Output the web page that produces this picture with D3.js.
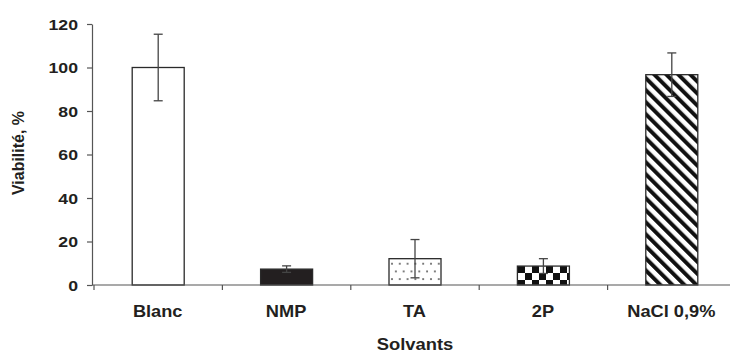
<!DOCTYPE html>
<html><head><meta charset="utf-8">
<script src="https://cdn.jsdelivr.net/npm/d3@7"></script>
<style>body{margin:0;background:#fff}svg{display:block}text{font-family:"Liberation Sans",Arial,sans-serif;font-weight:bold;fill:#231f20}</style>
</head><body>
<script>
const categories = ["Blanc", "NMP", "TA", "2P", "NaCl 0,9%"];
const values = [100, 7.3, 12.1, 8.7, 96.7];
const errors = [15.3, 1.5, 8.8, 3.4, 10];
const patterns = ["white", "solid", "dots", "checks", "stripes"];
const yTicks = [0, 20, 40, 60, 80, 100, 120];

const W = 730, H = 354;
const svg = d3.select("body").append("svg").attr("width", W).attr("height", H);
const defs = svg.append("defs");

// dots
const pd = defs.append("pattern").attr("id", "dots").attr("patternUnits", "userSpaceOnUse")
  .attr("width", 15.6).attr("height", 15.4);
pd.append("rect").attr("width", 15.6).attr("height", 15.4).attr("fill", "#fff");
[[2,2],[9.8,2],[5.9,9.7],[13.7,9.7]].forEach(([x,y]) => pd.append("circle").attr("cx", x).attr("cy", y).attr("r", 1).attr("fill", "#555"));
// checks
const pc = defs.append("pattern").attr("id", "checks").attr("patternUnits", "userSpaceOnUse")
  .attr("width", 14).attr("height", 14);
pc.append("rect").attr("width", 14).attr("height", 14).attr("fill", "#fff");
pc.append("rect").attr("width", 7).attr("height", 7).attr("fill", "#111");
pc.append("rect").attr("x", 7).attr("y", 7).attr("width", 7).attr("height", 7).attr("fill", "#111");
// stripes
const ps = defs.append("pattern").attr("id", "stripes").attr("patternUnits", "userSpaceOnUse")
  .attr("width", 8.5).attr("height", 8.5).attr("patternTransform", "rotate(-45)");
ps.append("rect").attr("width", 8.5).attr("height", 8.5).attr("fill", "#fff");
ps.append("rect").attr("width", 4).attr("height", 8.5).attr("fill", "#111");

const fills = {white: "#fff", solid: "#231f20", dots: "url(#dots)", checks: "url(#checks)", stripes: "url(#stripes)"};

const x = d3.scaleBand().domain(categories).range([94, 736]).paddingInner(0.595).paddingOuter(0.2975);
const y = d3.scaleLinear().domain([0, 120]).range([285, 24]);
const axisColor = "#555";

// bars
svg.selectAll("rect.bar").data(categories).join("rect").attr("class", "bar")
  .attr("x", d => x(d)).attr("width", x.bandwidth())
  .attr("y", (d, i) => y(values[i])).attr("height", (d, i) => y(0) - y(values[i]))
  .attr("fill", (d, i) => fills[patterns[i]])
  .attr("stroke", "#2a2a2a").attr("stroke-width", 1.3);

// error bars
const eg = svg.append("g").attr("stroke", "#444").attr("stroke-width", 1.3);
categories.forEach((c, i) => {
  const cx = x(c) + x.bandwidth() / 2;
  const t = y(values[i] + errors[i]), b = y(values[i] - errors[i]);
  eg.append("line").attr("x1", cx).attr("x2", cx).attr("y1", t).attr("y2", b);
  eg.append("line").attr("x1", cx - 4.5).attr("x2", cx + 4.5).attr("y1", t).attr("y2", t);
  eg.append("line").attr("x1", cx - 4.5).attr("x2", cx + 4.5).attr("y1", b).attr("y2", b);
});

// y axis
const ya = svg.append("g").attr("transform", "translate(92,0)")
  .call(d3.axisLeft(y).tickValues(yTicks).tickSize(5).tickPadding(9).tickSizeOuter(0));
ya.select(".domain").attr("stroke", axisColor).attr("stroke-width", 1.2);
ya.selectAll(".tick line").attr("stroke", axisColor).attr("stroke-width", 1.2);
ya.selectAll(".tick text").style("font-size", "14.5px").attr("font-family", null)
  .attr("x", null).attr("dy", null).attr("y", 5)
  .attr("transform", "translate(-14,0) scale(1.22,1)");

// x axis
const xg = svg.append("g");
xg.append("line").attr("x1", 92).attr("x2", 736).attr("y1", 285).attr("y2", 285).attr("stroke", axisColor).attr("stroke-width", 1.2);
const bounds = categories.map(c => x(c) - x.step() * x.paddingInner() / 2);
xg.selectAll("line.tk").data(bounds).join("line").attr("class", "tk")
  .attr("x1", d => d).attr("x2", d => d).attr("y1", 285).attr("y2", 290)
  .attr("stroke", axisColor).attr("stroke-width", 1.2);
xg.selectAll("text").data(categories).join("text")
  .attr("transform", d => `translate(${x(d) + x.bandwidth() / 2 - 0.5},317) scale(1.14,1)`)
  .attr("text-anchor", "middle").style("font-size", "16px").text(d => d);

// axis titles
svg.append("text").attr("transform", "translate(415,350) scale(1.15,1)").attr("text-anchor", "middle").style("font-size", "16px").text("Solvants");
svg.append("text").attr("transform", "translate(24,153) rotate(-90)").attr("text-anchor", "middle").style("font-size", "16px").text("Viabilité, %");
</script>
</body></html>
